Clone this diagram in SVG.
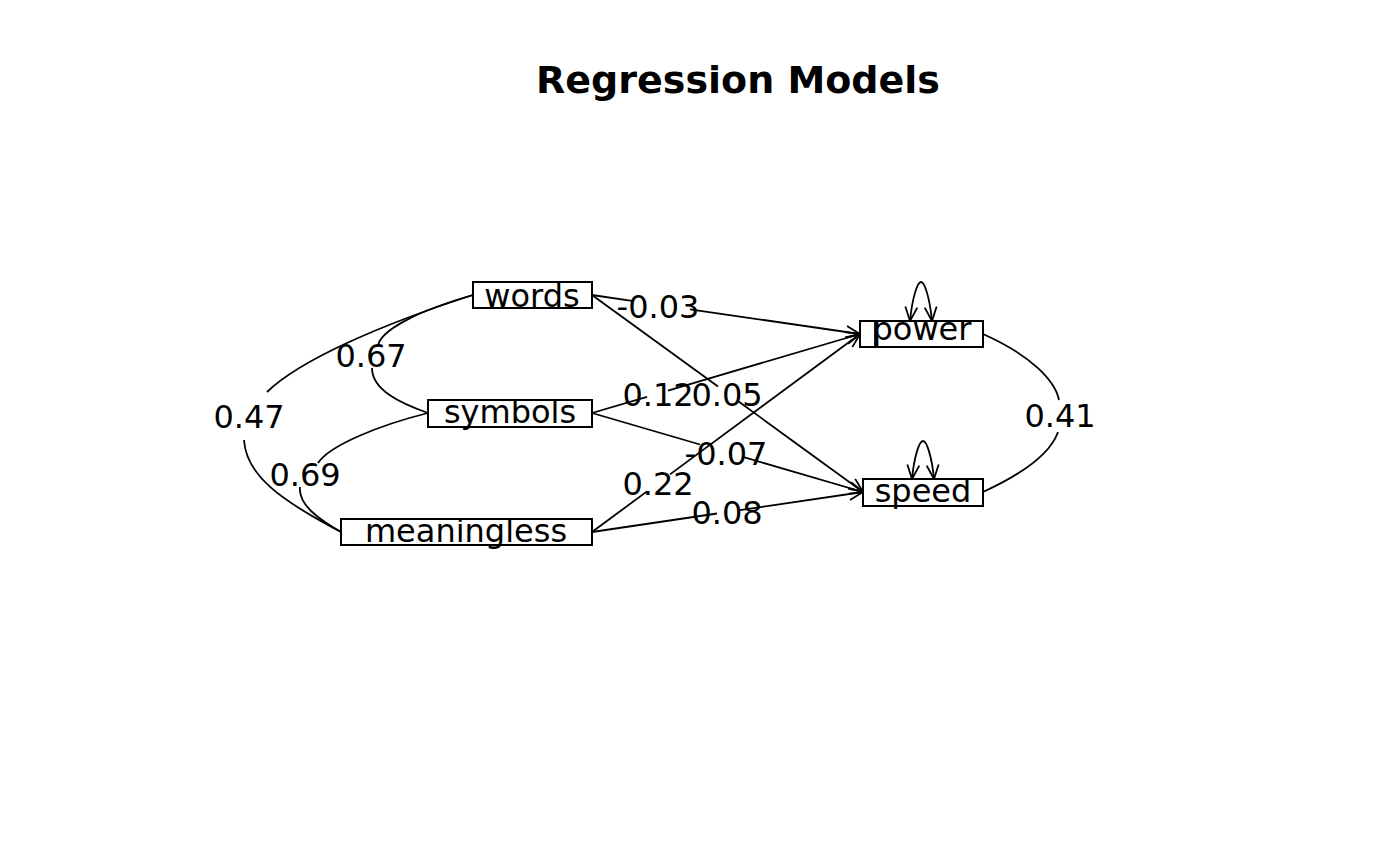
<svg xmlns="http://www.w3.org/2000/svg" width="1400" height="866" viewBox="0 0 1400 866">
<style>
text{font-family:"DejaVu Sans","Liberation Sans",sans-serif;fill:#000}
.lbl{font-size:32px;text-anchor:middle}
.box{fill:#fff;stroke:#000;stroke-width:2}
.e{fill:none;stroke:#000;stroke-width:1.8}
</style>
<defs>
<marker id="arr" viewBox="0 0 16 14" refX="15" refY="7" markerWidth="16" markerHeight="14" markerUnits="userSpaceOnUse" orient="auto-start-reverse">
<path d="M1,1 L15,7 L1,13" fill="none" stroke="#000" stroke-width="1.8"/>
</marker>
</defs>
<rect width="1400" height="866" fill="#fff"/>
<text x="738" y="93" style="font-size:38px;font-weight:bold;text-anchor:middle">Regression Models</text>
<g id="connectors">
<path class="e" d="M592,295 L632,300.8"/><path class="e" d="M690,309.3 L860,334" marker-end="url(#arr)"/>
<path class="e" d="M592,295 L718,386.6"/><path class="e" d="M738,401.1 L863,492" marker-end="url(#arr)"/>
<path class="e" d="M592,413 L647,396.8"/><path class="e" d="M668,390.6 L860,334" marker-end="url(#arr)"/>
<path class="e" d="M592,413 L700,444.5"/><path class="e" d="M742,456.7 L863,492" marker-end="url(#arr)"/>
<path class="e" d="M592,532 L647,491.4"/><path class="e" d="M670,474.4 L860,334" marker-end="url(#arr)"/>
<path class="e" d="M592,532 L717,513.5"/><path class="e" d="M740,510.2 L863,492" marker-end="url(#arr)"/>
<path class="e" d="M473,295 C380,325 300,360 267,392"/><path class="e" d="M244,440 C246,475 280,500 341,532"/>
<path class="e" d="M473,295 C420,310 380,330 378,346"/><path class="e" d="M372,368 C372,390 400,403 428,413"/>
<path class="e" d="M428,413 C380,425 330,445 318,463"/><path class="e" d="M300,487 C298,505 320,520 341,532"/>
<path class="e" d="M983,334 C1030,355 1055,380 1059,400"/><path class="e" d="M1058,432 C1050,455 1020,475 983,492"/>
<path class="e" d="M910,321 C912,300 917,282 921,282 C925,282 930,300 932,321" marker-start="url(#arr)" marker-end="url(#arr)"/>
<path class="e" d="M912,479 C914,458 919,441 923,441 C927,441 932,458 934,479" marker-start="url(#arr)" marker-end="url(#arr)"/>
<text class="lbl" x="658" y="318">-0.03</text>
<text class="lbl" x="658" y="406">0.12</text>
<text class="lbl" x="727" y="406">0.05</text>
<text class="lbl" x="726" y="465">-0.07</text>
<text class="lbl" x="658" y="495">0.22</text>
<text class="lbl" x="727" y="524">0.08</text>
<text class="lbl" x="249" y="428">0.47</text>
<text class="lbl" x="371" y="367">0.67</text>
<text class="lbl" x="305" y="486">0.69</text>
<text class="lbl" x="1060" y="427">0.41</text>
</g>
<g id="words"><rect class="box" x="473" y="282" width="119" height="26"/><line x1="559" y1="282" x2="559" y2="308" stroke="#000" stroke-width="1.8"/><text class="lbl" x="532" y="307">words</text></g>
<g id="symbols"><rect class="box" x="428" y="400" width="164" height="27"/><text class="lbl" x="510" y="423">symbols</text></g>
<g id="meaningless"><rect class="box" x="341" y="519" width="251" height="26"/><text class="lbl" x="466" y="542">meaningless</text></g>
<g id="power"><rect class="box" x="860" y="321" width="123" height="26"/><line x1="875" y1="321" x2="875" y2="347" stroke="#000" stroke-width="1.8"/><text class="lbl" x="922" y="340">power</text></g>
<g id="speed"><rect class="box" x="863" y="479" width="120" height="27"/><text class="lbl" x="923" y="502">speed</text></g>
</svg>
